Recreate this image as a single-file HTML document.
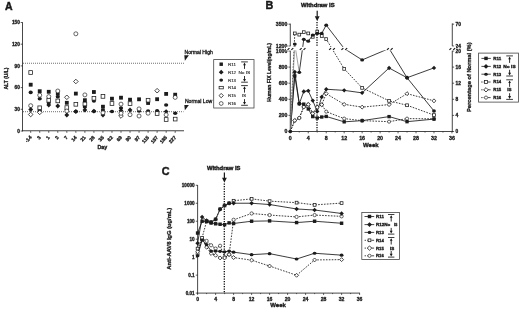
<!DOCTYPE html>
<html><head><meta charset="utf-8"><title>Figure</title>
<style>
html,body{margin:0;padding:0;background:#fff;}
body{width:520px;height:310px;overflow:hidden;font-family:"Liberation Sans",sans-serif;}
svg{display:block;font-family:"Liberation Sans",sans-serif;}
</style></head><body>
<svg width="520" height="310" viewBox="0 0 520 310">
<rect x="0" y="0" width="520" height="310" fill="#ffffff"/>
<defs><filter id="soft" x="0" y="0" width="520" height="310" filterUnits="userSpaceOnUse"><feGaussianBlur stdDeviation="0.3"/></filter></defs>
<g filter="url(#soft)">
<text x="5" y="10.2" font-size="10.5" font-weight="bold" stroke="#1a1a1a" stroke-width="0.45" fill="#1a1a1a">A</text>
<line x1="22.50" y1="22.20" x2="22.50" y2="131.40" stroke="#1a1a1a" stroke-width="0.8"/>
<line x1="22.10" y1="130.75" x2="184.00" y2="130.75" stroke="#1a1a1a" stroke-width="0.8"/>
<line x1="20.70" y1="131.00" x2="22.50" y2="131.00" stroke="#1a1a1a" stroke-width="0.7"/>
<text x="19.9" y="132.7" font-size="4.8" font-weight="bold" stroke="#1a1a1a" stroke-width="0.3" text-anchor="end" fill="#1a1a1a">0</text>
<line x1="20.70" y1="109.30" x2="22.50" y2="109.30" stroke="#1a1a1a" stroke-width="0.7"/>
<text x="19.9" y="111.0" font-size="4.8" font-weight="bold" stroke="#1a1a1a" stroke-width="0.3" text-anchor="end" fill="#1a1a1a">30</text>
<line x1="20.70" y1="87.60" x2="22.50" y2="87.60" stroke="#1a1a1a" stroke-width="0.7"/>
<text x="19.9" y="89.3" font-size="4.8" font-weight="bold" stroke="#1a1a1a" stroke-width="0.3" text-anchor="end" fill="#1a1a1a">60</text>
<line x1="20.70" y1="65.90" x2="22.50" y2="65.90" stroke="#1a1a1a" stroke-width="0.7"/>
<text x="19.9" y="67.6" font-size="4.8" font-weight="bold" stroke="#1a1a1a" stroke-width="0.3" text-anchor="end" fill="#1a1a1a">90</text>
<line x1="20.70" y1="44.20" x2="22.50" y2="44.20" stroke="#1a1a1a" stroke-width="0.7"/>
<text x="19.9" y="45.89999999999999" font-size="4.8" font-weight="bold" stroke="#1a1a1a" stroke-width="0.3" text-anchor="end" fill="#1a1a1a">120</text>
<line x1="20.70" y1="22.50" x2="22.50" y2="22.50" stroke="#1a1a1a" stroke-width="0.7"/>
<text x="19.9" y="24.199999999999985" font-size="4.8" font-weight="bold" stroke="#1a1a1a" stroke-width="0.3" text-anchor="end" fill="#1a1a1a">150</text>
<text x="7.6" y="78.5" font-size="5.5" font-weight="bold" stroke="#1a1a1a" stroke-width="0.3" text-anchor="middle" transform="rotate(-90 7.6 78.5)" textLength="22" lengthAdjust="spacingAndGlyphs" fill="#1a1a1a">ALT (U/L)</text>
<line x1="23.00" y1="63.25" x2="184.00" y2="63.25" stroke="#555" stroke-width="0.85" stroke-dasharray="1.0 1.0"/>
<line x1="23.00" y1="111.70" x2="183.50" y2="111.70" stroke="#555" stroke-width="0.85" stroke-dasharray="1.0 1.0"/>
<text x="184.5" y="54.0" font-size="5.0" stroke="#1a1a1a" stroke-width="0.3" textLength="28.3" lengthAdjust="spacingAndGlyphs" fill="#1a1a1a">Normal High</text>
<text x="184.9" y="102.9" font-size="5.0" stroke="#1a1a1a" stroke-width="0.3" textLength="27.4" lengthAdjust="spacingAndGlyphs" fill="#1a1a1a">Normal Low</text>
<polygon points="184.3,55.3 188.9,55.3 184.9,60.7" fill="#1a1a1a"/>
<polygon points="184.3,104.9 188.9,104.9 184.9,110.2" fill="#1a1a1a"/>
<line x1="30.70" y1="131.00" x2="30.70" y2="132.80" stroke="#1a1a1a" stroke-width="0.7"/>
<text x="32.0" y="137.6" font-size="4.9" font-weight="bold" stroke="#1a1a1a" stroke-width="0.3" text-anchor="end" transform="rotate(-48 32.0 137.6)" fill="#1a1a1a">-14</text>
<line x1="39.73" y1="131.00" x2="39.73" y2="132.80" stroke="#1a1a1a" stroke-width="0.7"/>
<text x="41.029999999999994" y="137.6" font-size="4.9" font-weight="bold" stroke="#1a1a1a" stroke-width="0.3" text-anchor="end" transform="rotate(-48 41.029999999999994 137.6)" fill="#1a1a1a">3</text>
<line x1="48.76" y1="131.00" x2="48.76" y2="132.80" stroke="#1a1a1a" stroke-width="0.7"/>
<text x="50.059999999999995" y="137.6" font-size="4.9" font-weight="bold" stroke="#1a1a1a" stroke-width="0.3" text-anchor="end" transform="rotate(-48 50.059999999999995 137.6)" fill="#1a1a1a">1</text>
<line x1="57.79" y1="131.00" x2="57.79" y2="132.80" stroke="#1a1a1a" stroke-width="0.7"/>
<text x="59.08999999999999" y="137.6" font-size="4.9" font-weight="bold" stroke="#1a1a1a" stroke-width="0.3" text-anchor="end" transform="rotate(-48 59.08999999999999 137.6)" fill="#1a1a1a">2</text>
<line x1="66.82" y1="131.00" x2="66.82" y2="132.80" stroke="#1a1a1a" stroke-width="0.7"/>
<text x="68.11999999999999" y="137.6" font-size="4.9" font-weight="bold" stroke="#1a1a1a" stroke-width="0.3" text-anchor="end" transform="rotate(-48 68.11999999999999 137.6)" fill="#1a1a1a">7</text>
<line x1="75.85" y1="131.00" x2="75.85" y2="132.80" stroke="#1a1a1a" stroke-width="0.7"/>
<text x="77.14999999999999" y="137.6" font-size="4.9" font-weight="bold" stroke="#1a1a1a" stroke-width="0.3" text-anchor="end" transform="rotate(-48 77.14999999999999 137.6)" fill="#1a1a1a">14</text>
<line x1="84.88" y1="131.00" x2="84.88" y2="132.80" stroke="#1a1a1a" stroke-width="0.7"/>
<text x="86.17999999999999" y="137.6" font-size="4.9" font-weight="bold" stroke="#1a1a1a" stroke-width="0.3" text-anchor="end" transform="rotate(-48 86.17999999999999 137.6)" fill="#1a1a1a">21</text>
<line x1="93.91" y1="131.00" x2="93.91" y2="132.80" stroke="#1a1a1a" stroke-width="0.7"/>
<text x="95.21" y="137.6" font-size="4.9" font-weight="bold" stroke="#1a1a1a" stroke-width="0.3" text-anchor="end" transform="rotate(-48 95.21 137.6)" fill="#1a1a1a">28</text>
<line x1="102.94" y1="131.00" x2="102.94" y2="132.80" stroke="#1a1a1a" stroke-width="0.7"/>
<text x="104.24" y="137.6" font-size="4.9" font-weight="bold" stroke="#1a1a1a" stroke-width="0.3" text-anchor="end" transform="rotate(-48 104.24 137.6)" fill="#1a1a1a">35</text>
<line x1="111.97" y1="131.00" x2="111.97" y2="132.80" stroke="#1a1a1a" stroke-width="0.7"/>
<text x="113.27" y="137.6" font-size="4.9" font-weight="bold" stroke="#1a1a1a" stroke-width="0.3" text-anchor="end" transform="rotate(-48 113.27 137.6)" fill="#1a1a1a">62</text>
<line x1="121.00" y1="131.00" x2="121.00" y2="132.80" stroke="#1a1a1a" stroke-width="0.7"/>
<text x="122.3" y="137.6" font-size="4.9" font-weight="bold" stroke="#1a1a1a" stroke-width="0.3" text-anchor="end" transform="rotate(-48 122.3 137.6)" fill="#1a1a1a">69</text>
<line x1="130.03" y1="131.00" x2="130.03" y2="132.80" stroke="#1a1a1a" stroke-width="0.7"/>
<text x="131.33" y="137.6" font-size="4.9" font-weight="bold" stroke="#1a1a1a" stroke-width="0.3" text-anchor="end" transform="rotate(-48 131.33 137.6)" fill="#1a1a1a">90</text>
<line x1="139.06" y1="131.00" x2="139.06" y2="132.80" stroke="#1a1a1a" stroke-width="0.7"/>
<text x="140.35999999999999" y="137.6" font-size="4.9" font-weight="bold" stroke="#1a1a1a" stroke-width="0.3" text-anchor="end" transform="rotate(-48 140.35999999999999 137.6)" fill="#1a1a1a">97</text>
<line x1="148.09" y1="131.00" x2="148.09" y2="132.80" stroke="#1a1a1a" stroke-width="0.7"/>
<text x="149.39" y="137.6" font-size="4.9" font-weight="bold" stroke="#1a1a1a" stroke-width="0.3" text-anchor="end" transform="rotate(-48 149.39 137.6)" fill="#1a1a1a">115</text>
<line x1="157.12" y1="131.00" x2="157.12" y2="132.80" stroke="#1a1a1a" stroke-width="0.7"/>
<text x="158.42" y="137.6" font-size="4.9" font-weight="bold" stroke="#1a1a1a" stroke-width="0.3" text-anchor="end" transform="rotate(-48 158.42 137.6)" fill="#1a1a1a">157</text>
<line x1="166.15" y1="131.00" x2="166.15" y2="132.80" stroke="#1a1a1a" stroke-width="0.7"/>
<text x="167.45" y="137.6" font-size="4.9" font-weight="bold" stroke="#1a1a1a" stroke-width="0.3" text-anchor="end" transform="rotate(-48 167.45 137.6)" fill="#1a1a1a">185</text>
<line x1="175.18" y1="131.00" x2="175.18" y2="132.80" stroke="#1a1a1a" stroke-width="0.7"/>
<text x="176.48" y="137.6" font-size="4.9" font-weight="bold" stroke="#1a1a1a" stroke-width="0.3" text-anchor="end" transform="rotate(-48 176.48 137.6)" fill="#1a1a1a">227</text>
<text x="102.4" y="149.3" font-size="5.4" font-weight="bold" stroke="#1a1a1a" stroke-width="0.3" text-anchor="middle" fill="#1a1a1a">Day</text>
<rect x="28.85" y="70.65" width="3.70" height="3.70" fill="#fff" stroke="#1a1a1a" stroke-width="0.75"/>
<rect x="28.80" y="82.80" width="3.80" height="3.80" fill="#1a1a1a"/>
<ellipse cx="30.70" cy="92.40" rx="2.10" ry="1.80" fill="#1a1a1a"/>
<circle cx="30.70" cy="105.70" r="2.00" fill="#fff" stroke="#2a2a2a" stroke-width="0.72"/>
<polygon points="30.70,107.10 33.10,109.50 30.70,111.90 28.30,109.50" fill="#1a1a1a"/>
<polygon points="30.70,112.20 33.00,114.50 30.70,116.80 28.40,114.50" fill="#fff" stroke="#1a1a1a" stroke-width="0.8"/>
<rect x="37.83" y="89.30" width="3.80" height="3.80" fill="#1a1a1a"/>
<ellipse cx="39.73" cy="98.70" rx="2.10" ry="1.80" fill="#1a1a1a"/>
<circle cx="39.73" cy="95.20" r="2.00" fill="#fff" stroke="#2a2a2a" stroke-width="0.72"/>
<polygon points="39.73,108.30 42.13,110.70 39.73,113.10 37.33,110.70" fill="#1a1a1a"/>
<polygon points="39.73,110.10 42.03,112.40 39.73,114.70 37.43,112.40" fill="#fff" stroke="#1a1a1a" stroke-width="0.8"/>
<rect x="37.88" y="105.95" width="3.70" height="3.70" fill="#fff" stroke="#1a1a1a" stroke-width="0.75"/>
<rect x="46.86" y="89.90" width="3.80" height="3.80" fill="#1a1a1a"/>
<polygon points="48.76,102.60 51.16,105.00 48.76,107.40 46.36,105.00" fill="#1a1a1a"/>
<ellipse cx="48.76" cy="102.80" rx="2.10" ry="1.80" fill="#1a1a1a"/>
<rect x="46.91" y="98.45" width="3.70" height="3.70" fill="#fff" stroke="#1a1a1a" stroke-width="0.75"/>
<circle cx="48.76" cy="96.60" r="2.00" fill="#fff" stroke="#2a2a2a" stroke-width="0.72"/>
<rect x="55.89" y="91.80" width="3.80" height="3.80" fill="#1a1a1a"/>
<polygon points="57.79,103.60 60.19,106.00 57.79,108.40 55.39,106.00" fill="#1a1a1a"/>
<ellipse cx="57.79" cy="96.80" rx="2.10" ry="1.80" fill="#1a1a1a"/>
<rect x="55.94" y="99.05" width="3.70" height="3.70" fill="#fff" stroke="#1a1a1a" stroke-width="0.75"/>
<circle cx="57.79" cy="91.00" r="2.00" fill="#fff" stroke="#2a2a2a" stroke-width="0.72"/>
<rect x="64.92" y="100.90" width="3.80" height="3.80" fill="#1a1a1a"/>
<polygon points="66.82,112.60 69.22,115.00 66.82,117.40 64.42,115.00" fill="#1a1a1a"/>
<ellipse cx="66.82" cy="109.50" rx="2.10" ry="1.80" fill="#1a1a1a"/>
<rect x="64.97" y="105.75" width="3.70" height="3.70" fill="#fff" stroke="#1a1a1a" stroke-width="0.75"/>
<circle cx="66.82" cy="111.00" r="2.00" fill="#fff" stroke="#2a2a2a" stroke-width="0.72"/>
<polygon points="66.82,95.00 69.12,97.30 66.82,99.60 64.52,97.30" fill="#fff" stroke="#1a1a1a" stroke-width="0.8"/>
<circle cx="75.85" cy="33.80" r="2.00" fill="#fff" stroke="#2a2a2a" stroke-width="0.72"/>
<polygon points="75.85,79.20 78.15,81.50 75.85,83.80 73.55,81.50" fill="#fff" stroke="#1a1a1a" stroke-width="0.8"/>
<rect x="73.95" y="91.70" width="3.80" height="3.80" fill="#1a1a1a"/>
<polygon points="75.85,109.10 78.25,111.50 75.85,113.90 73.45,111.50" fill="#1a1a1a"/>
<ellipse cx="75.85" cy="111.50" rx="2.10" ry="1.80" fill="#1a1a1a"/>
<rect x="74.00" y="102.45" width="3.70" height="3.70" fill="#fff" stroke="#1a1a1a" stroke-width="0.75"/>
<rect x="82.98" y="98.30" width="3.80" height="3.80" fill="#1a1a1a"/>
<polygon points="84.88,107.60 87.28,110.00 84.88,112.40 82.48,110.00" fill="#1a1a1a"/>
<ellipse cx="84.88" cy="107.00" rx="2.10" ry="1.80" fill="#1a1a1a"/>
<rect x="83.03" y="102.15" width="3.70" height="3.70" fill="#fff" stroke="#1a1a1a" stroke-width="0.75"/>
<circle cx="84.88" cy="94.90" r="2.00" fill="#fff" stroke="#2a2a2a" stroke-width="0.72"/>
<rect x="92.01" y="90.10" width="3.80" height="3.80" fill="#1a1a1a"/>
<polygon points="93.91,108.80 96.31,111.20 93.91,113.60 91.51,111.20" fill="#1a1a1a"/>
<ellipse cx="93.91" cy="111.20" rx="2.10" ry="1.80" fill="#1a1a1a"/>
<ellipse cx="93.91" cy="101.00" rx="2.10" ry="1.80" fill="#1a1a1a"/>
<rect x="92.06" y="96.45" width="3.70" height="3.70" fill="#fff" stroke="#1a1a1a" stroke-width="0.75"/>
<rect x="101.04" y="104.80" width="3.80" height="3.80" fill="#1a1a1a"/>
<polygon points="102.94,112.60 105.34,115.00 102.94,117.40 100.54,115.00" fill="#1a1a1a"/>
<ellipse cx="102.94" cy="110.00" rx="2.10" ry="1.80" fill="#1a1a1a"/>
<rect x="101.09" y="94.55" width="3.70" height="3.70" fill="#fff" stroke="#1a1a1a" stroke-width="0.75"/>
<circle cx="102.94" cy="112.80" r="2.00" fill="#fff" stroke="#2a2a2a" stroke-width="0.72"/>
<rect x="110.07" y="96.80" width="3.80" height="3.80" fill="#1a1a1a"/>
<ellipse cx="111.97" cy="111.50" rx="2.10" ry="1.80" fill="#1a1a1a"/>
<rect x="110.12" y="101.65" width="3.70" height="3.70" fill="#fff" stroke="#1a1a1a" stroke-width="0.75"/>
<rect x="119.10" y="95.80" width="3.80" height="3.80" fill="#1a1a1a"/>
<ellipse cx="121.00" cy="108.00" rx="2.10" ry="1.80" fill="#1a1a1a"/>
<polygon points="121.00,108.20 123.40,110.60 121.00,113.00 118.60,110.60" fill="#1a1a1a"/>
<circle cx="121.00" cy="104.10" r="2.00" fill="#fff" stroke="#2a2a2a" stroke-width="0.72"/>
<polygon points="121.00,113.70 123.30,116.00 121.00,118.30 118.70,116.00" fill="#fff" stroke="#1a1a1a" stroke-width="0.8"/>
<circle cx="121.00" cy="113.30" r="2.00" fill="#fff" stroke="#2a2a2a" stroke-width="0.72"/>
<rect x="128.13" y="97.80" width="3.80" height="3.80" fill="#1a1a1a"/>
<polygon points="130.03,107.60 132.43,110.00 130.03,112.40 127.63,110.00" fill="#1a1a1a"/>
<rect x="128.18" y="101.75" width="3.70" height="3.70" fill="#fff" stroke="#1a1a1a" stroke-width="0.75"/>
<circle cx="130.03" cy="114.70" r="2.00" fill="#fff" stroke="#2a2a2a" stroke-width="0.72"/>
<rect x="137.16" y="97.40" width="3.80" height="3.80" fill="#1a1a1a"/>
<ellipse cx="139.06" cy="111.00" rx="2.10" ry="1.80" fill="#1a1a1a"/>
<circle cx="139.06" cy="108.90" r="2.00" fill="#fff" stroke="#2a2a2a" stroke-width="0.72"/>
<circle cx="139.06" cy="116.00" r="2.00" fill="#fff" stroke="#2a2a2a" stroke-width="0.72"/>
<rect x="146.19" y="101.10" width="3.80" height="3.80" fill="#1a1a1a"/>
<ellipse cx="148.09" cy="111.00" rx="2.10" ry="1.80" fill="#1a1a1a"/>
<rect x="146.24" y="98.35" width="3.70" height="3.70" fill="#fff" stroke="#1a1a1a" stroke-width="0.75"/>
<circle cx="148.09" cy="113.20" r="2.00" fill="#fff" stroke="#2a2a2a" stroke-width="0.72"/>
<rect x="155.22" y="97.30" width="3.80" height="3.80" fill="#1a1a1a"/>
<ellipse cx="157.12" cy="110.70" rx="2.10" ry="1.80" fill="#1a1a1a"/>
<rect x="155.27" y="111.65" width="3.70" height="3.70" fill="#fff" stroke="#1a1a1a" stroke-width="0.75"/>
<polygon points="157.12,88.40 159.42,90.70 157.12,93.00 154.82,90.70" fill="#fff" stroke="#1a1a1a" stroke-width="0.8"/>
<rect x="164.25" y="92.00" width="3.80" height="3.80" fill="#1a1a1a"/>
<ellipse cx="166.15" cy="105.00" rx="2.10" ry="1.80" fill="#1a1a1a"/>
<polygon points="166.15,109.20 168.55,111.60 166.15,114.00 163.75,111.60" fill="#1a1a1a"/>
<circle cx="166.15" cy="114.80" r="2.00" fill="#fff" stroke="#2a2a2a" stroke-width="0.72"/>
<rect x="164.30" y="117.65" width="3.70" height="3.70" fill="#fff" stroke="#1a1a1a" stroke-width="0.75"/>
<rect x="173.28" y="92.80" width="3.80" height="3.80" fill="#1a1a1a"/>
<ellipse cx="175.18" cy="113.20" rx="2.10" ry="1.80" fill="#1a1a1a"/>
<rect x="173.33" y="117.25" width="3.70" height="3.70" fill="#fff" stroke="#1a1a1a" stroke-width="0.75"/>
<circle cx="175.18" cy="97.40" r="2.00" fill="#fff" stroke="#2a2a2a" stroke-width="0.72"/>
<rect x="213.7" y="59.6" width="40.3" height="48.4" fill="#fff" stroke="#444" stroke-width="0.8"/>
<rect x="219.49" y="62.49" width="3.42" height="3.42" fill="#1a1a1a"/>
<text x="228" y="65.75" font-size="4.3" stroke="#1a1a1a" stroke-width="0.12" textLength="8.0" lengthAdjust="spacingAndGlyphs" fill="#1a1a1a">R11</text>
<polygon points="221.20,69.80 223.60,72.20 221.20,74.60 218.80,72.20" fill="#1a1a1a"/>
<text x="228" y="73.75" font-size="4.3" stroke="#1a1a1a" stroke-width="0.12" textLength="8.0" lengthAdjust="spacingAndGlyphs" fill="#1a1a1a">R12</text>
<ellipse cx="221.20" cy="80.10" rx="1.85" ry="1.58" fill="#1a1a1a"/>
<text x="228" y="81.64999999999999" font-size="4.3" stroke="#1a1a1a" stroke-width="0.12" textLength="8.0" lengthAdjust="spacingAndGlyphs" fill="#1a1a1a">R13</text>
<rect x="219.10" y="86.35" width="4.2" height="2.5" fill="#fff" stroke="#1a1a1a" stroke-width="0.75"/>
<text x="228" y="89.14999999999999" font-size="4.3" stroke="#1a1a1a" stroke-width="0.12" textLength="8.0" lengthAdjust="spacingAndGlyphs" fill="#1a1a1a">R14</text>
<polygon points="221.20,93.41 223.38,95.60 221.20,97.78 219.01,95.60" fill="#fff" stroke="#1a1a1a" stroke-width="0.8"/>
<text x="228" y="97.14999999999999" font-size="4.3" stroke="#1a1a1a" stroke-width="0.12" textLength="8.0" lengthAdjust="spacingAndGlyphs" fill="#1a1a1a">R15</text>
<circle cx="221.20" cy="103.50" r="1.90" fill="#fff" stroke="#2a2a2a" stroke-width="0.72"/>
<text x="228" y="105.05" font-size="4.3" stroke="#1a1a1a" stroke-width="0.12" textLength="8.0" lengthAdjust="spacingAndGlyphs" fill="#1a1a1a">R16</text>
<text x="238.4" y="73.75" font-size="4.3" stroke="#1a1a1a" stroke-width="0.12" textLength="11.9" lengthAdjust="spacingAndGlyphs" fill="#1a1a1a">No IS</text>
<text x="241.8" y="97.14999999999999" font-size="4.3" stroke="#1a1a1a" stroke-width="0.12" textLength="4.3" lengthAdjust="spacingAndGlyphs" fill="#1a1a1a">IS</text>
<line x1="241.15" y1="61.90" x2="247.85" y2="61.90" stroke="#1a1a1a" stroke-width="0.85"/>
<polygon points="244.50,62.60 243.15,65.20 245.85,65.20" fill="#1a1a1a"/>
<line x1="244.50" y1="63.90" x2="244.50" y2="68.90" stroke="#1a1a1a" stroke-width="0.9"/>
<line x1="241.15" y1="82.20" x2="247.85" y2="82.20" stroke="#1a1a1a" stroke-width="0.85"/>
<polygon points="244.50,81.70 243.05,78.90 245.95,78.90" fill="#1a1a1a"/>
<line x1="244.50" y1="80.20" x2="244.50" y2="76.00" stroke="#1a1a1a" stroke-width="0.9"/>
<line x1="241.15" y1="85.60" x2="247.85" y2="85.60" stroke="#1a1a1a" stroke-width="0.85"/>
<polygon points="244.50,86.30 243.15,88.90 245.85,88.90" fill="#1a1a1a"/>
<line x1="244.50" y1="87.60" x2="244.50" y2="92.60" stroke="#1a1a1a" stroke-width="0.9"/>
<line x1="241.15" y1="105.30" x2="247.85" y2="105.30" stroke="#1a1a1a" stroke-width="0.85"/>
<polygon points="244.50,104.80 243.05,102.00 245.95,102.00" fill="#1a1a1a"/>
<line x1="244.50" y1="103.30" x2="244.50" y2="99.10" stroke="#1a1a1a" stroke-width="0.9"/>
<text x="265.6" y="9.3" font-size="10.8" font-weight="bold" stroke="#1a1a1a" stroke-width="0.45" fill="#1a1a1a">B</text>
<text x="301" y="6.9" font-size="5.9" font-weight="bold" stroke="#1a1a1a" stroke-width="0.4" textLength="33.6" lengthAdjust="spacingAndGlyphs" fill="#1a1a1a">Withdraw IS</text>
<line x1="317.20" y1="10.80" x2="317.20" y2="16.80" stroke="#1a1a1a" stroke-width="1.2"/>
<polygon points="314.80,16.30 319.60,16.30 317.20,21.30" fill="#1a1a1a"/>
<line x1="290.30" y1="23.60" x2="290.30" y2="46.20" stroke="#1a1a1a" stroke-width="0.8"/>
<line x1="290.30" y1="50.60" x2="290.30" y2="131.90" stroke="#1a1a1a" stroke-width="0.8"/>
<line x1="452.30" y1="23.40" x2="452.30" y2="46.20" stroke="#1a1a1a" stroke-width="0.8"/>
<line x1="452.30" y1="50.60" x2="452.30" y2="131.90" stroke="#1a1a1a" stroke-width="0.8"/>
<line x1="289.90" y1="131.50" x2="452.70" y2="131.50" stroke="#1a1a1a" stroke-width="0.8"/>
<line x1="317.00" y1="22.00" x2="317.00" y2="131.50" stroke="#000" stroke-width="1.25" stroke-dasharray="1.15 1.35"/>
<line x1="288.50" y1="131.50" x2="290.30" y2="131.50" stroke="#1a1a1a" stroke-width="0.7"/>
<text x="287.3" y="133.3" font-size="5.2" font-weight="bold" stroke="#1a1a1a" stroke-width="0.3" text-anchor="end" fill="#1a1a1a">0</text>
<line x1="288.50" y1="115.40" x2="290.30" y2="115.40" stroke="#1a1a1a" stroke-width="0.7"/>
<text x="287.3" y="117.2" font-size="5.2" font-weight="bold" stroke="#1a1a1a" stroke-width="0.3" text-anchor="end" fill="#1a1a1a">200</text>
<line x1="288.50" y1="99.30" x2="290.30" y2="99.30" stroke="#1a1a1a" stroke-width="0.7"/>
<text x="287.3" y="101.1" font-size="5.2" font-weight="bold" stroke="#1a1a1a" stroke-width="0.3" text-anchor="end" fill="#1a1a1a">400</text>
<line x1="288.50" y1="83.20" x2="290.30" y2="83.20" stroke="#1a1a1a" stroke-width="0.7"/>
<text x="287.3" y="85.0" font-size="5.2" font-weight="bold" stroke="#1a1a1a" stroke-width="0.3" text-anchor="end" fill="#1a1a1a">600</text>
<line x1="288.50" y1="67.10" x2="290.30" y2="67.10" stroke="#1a1a1a" stroke-width="0.7"/>
<text x="287.3" y="68.89999999999999" font-size="5.2" font-weight="bold" stroke="#1a1a1a" stroke-width="0.3" text-anchor="end" fill="#1a1a1a">800</text>
<line x1="288.50" y1="51.00" x2="290.30" y2="51.00" stroke="#1a1a1a" stroke-width="0.7"/>
<text x="287.3" y="52.8" font-size="5.2" font-weight="bold" stroke="#1a1a1a" stroke-width="0.3" text-anchor="end" fill="#1a1a1a">1000</text>
<line x1="288.50" y1="46.00" x2="290.30" y2="46.00" stroke="#1a1a1a" stroke-width="0.7"/>
<text x="287.3" y="47.8" font-size="5.2" font-weight="bold" stroke="#1a1a1a" stroke-width="0.3" text-anchor="end" fill="#1a1a1a">1200</text>
<line x1="288.50" y1="24.20" x2="290.30" y2="24.20" stroke="#1a1a1a" stroke-width="0.7"/>
<text x="287.3" y="26.0" font-size="5.2" font-weight="bold" stroke="#1a1a1a" stroke-width="0.3" text-anchor="end" fill="#1a1a1a">3500</text>
<line x1="452.30" y1="131.50" x2="454.10" y2="131.50" stroke="#1a1a1a" stroke-width="0.7"/>
<text x="455.5" y="133.2" font-size="4.9" font-weight="bold" stroke="#1a1a1a" stroke-width="0.3" fill="#1a1a1a">0</text>
<line x1="452.30" y1="115.40" x2="454.10" y2="115.40" stroke="#1a1a1a" stroke-width="0.7"/>
<text x="455.5" y="117.10000000000001" font-size="4.9" font-weight="bold" stroke="#1a1a1a" stroke-width="0.3" fill="#1a1a1a">4</text>
<line x1="452.30" y1="99.30" x2="454.10" y2="99.30" stroke="#1a1a1a" stroke-width="0.7"/>
<text x="455.5" y="101.0" font-size="4.9" font-weight="bold" stroke="#1a1a1a" stroke-width="0.3" fill="#1a1a1a">8</text>
<line x1="452.30" y1="83.20" x2="454.10" y2="83.20" stroke="#1a1a1a" stroke-width="0.7"/>
<text x="455.5" y="84.9" font-size="4.9" font-weight="bold" stroke="#1a1a1a" stroke-width="0.3" fill="#1a1a1a">12</text>
<line x1="452.30" y1="67.10" x2="454.10" y2="67.10" stroke="#1a1a1a" stroke-width="0.7"/>
<text x="455.5" y="68.8" font-size="4.9" font-weight="bold" stroke="#1a1a1a" stroke-width="0.3" fill="#1a1a1a">16</text>
<line x1="452.30" y1="51.00" x2="454.10" y2="51.00" stroke="#1a1a1a" stroke-width="0.7"/>
<text x="455.5" y="52.7" font-size="4.9" font-weight="bold" stroke="#1a1a1a" stroke-width="0.3" fill="#1a1a1a">20</text>
<line x1="452.30" y1="46.00" x2="454.10" y2="46.00" stroke="#1a1a1a" stroke-width="0.7"/>
<text x="455.5" y="47.7" font-size="4.9" font-weight="bold" stroke="#1a1a1a" stroke-width="0.3" fill="#1a1a1a">24</text>
<line x1="452.30" y1="24.20" x2="454.10" y2="24.20" stroke="#1a1a1a" stroke-width="0.7"/>
<text x="455.5" y="25.9" font-size="4.9" font-weight="bold" stroke="#1a1a1a" stroke-width="0.3" fill="#1a1a1a">70</text>
<text x="271.1" y="72.3" font-size="5.2" font-weight="bold" stroke="#1a1a1a" stroke-width="0.3" text-anchor="middle" transform="rotate(-90 271.1 72.3)" textLength="58.7" lengthAdjust="spacingAndGlyphs" fill="#1a1a1a">Human FIX Level(ng/mL)</text>
<text x="471.4" y="77.2" font-size="5.6" font-weight="bold" stroke="#1a1a1a" stroke-width="0.3" text-anchor="middle" transform="rotate(-90 471.4 77.2)" textLength="69.5" lengthAdjust="spacingAndGlyphs" fill="#1a1a1a">Percentage of Normal (%)</text>
<line x1="290.30" y1="131.50" x2="290.30" y2="133.30" stroke="#1a1a1a" stroke-width="0.7"/>
<text x="290.3" y="139.9" font-size="5.3" font-weight="bold" stroke="#1a1a1a" stroke-width="0.3" text-anchor="middle" fill="#1a1a1a">0</text>
<line x1="299.28" y1="131.50" x2="299.28" y2="132.50" stroke="#1a1a1a" stroke-width="0.7"/>
<line x1="308.26" y1="131.50" x2="308.26" y2="133.30" stroke="#1a1a1a" stroke-width="0.7"/>
<text x="308.26" y="139.9" font-size="5.3" font-weight="bold" stroke="#1a1a1a" stroke-width="0.3" text-anchor="middle" fill="#1a1a1a">4</text>
<line x1="317.24" y1="131.50" x2="317.24" y2="132.50" stroke="#1a1a1a" stroke-width="0.7"/>
<line x1="326.22" y1="131.50" x2="326.22" y2="133.30" stroke="#1a1a1a" stroke-width="0.7"/>
<text x="326.22" y="139.9" font-size="5.3" font-weight="bold" stroke="#1a1a1a" stroke-width="0.3" text-anchor="middle" fill="#1a1a1a">8</text>
<line x1="335.20" y1="131.50" x2="335.20" y2="132.50" stroke="#1a1a1a" stroke-width="0.7"/>
<line x1="344.18" y1="131.50" x2="344.18" y2="133.30" stroke="#1a1a1a" stroke-width="0.7"/>
<text x="344.18" y="139.9" font-size="5.3" font-weight="bold" stroke="#1a1a1a" stroke-width="0.3" text-anchor="middle" fill="#1a1a1a">12</text>
<line x1="353.16" y1="131.50" x2="353.16" y2="132.50" stroke="#1a1a1a" stroke-width="0.7"/>
<line x1="362.14" y1="131.50" x2="362.14" y2="133.30" stroke="#1a1a1a" stroke-width="0.7"/>
<text x="362.14" y="139.9" font-size="5.3" font-weight="bold" stroke="#1a1a1a" stroke-width="0.3" text-anchor="middle" fill="#1a1a1a">16</text>
<line x1="371.12" y1="131.50" x2="371.12" y2="132.50" stroke="#1a1a1a" stroke-width="0.7"/>
<line x1="380.10" y1="131.50" x2="380.10" y2="133.30" stroke="#1a1a1a" stroke-width="0.7"/>
<text x="380.1" y="139.9" font-size="5.3" font-weight="bold" stroke="#1a1a1a" stroke-width="0.3" text-anchor="middle" fill="#1a1a1a">20</text>
<line x1="389.08" y1="131.50" x2="389.08" y2="132.50" stroke="#1a1a1a" stroke-width="0.7"/>
<line x1="398.06" y1="131.50" x2="398.06" y2="133.30" stroke="#1a1a1a" stroke-width="0.7"/>
<text x="398.06" y="139.9" font-size="5.3" font-weight="bold" stroke="#1a1a1a" stroke-width="0.3" text-anchor="middle" fill="#1a1a1a">24</text>
<line x1="407.04" y1="131.50" x2="407.04" y2="132.50" stroke="#1a1a1a" stroke-width="0.7"/>
<line x1="416.02" y1="131.50" x2="416.02" y2="133.30" stroke="#1a1a1a" stroke-width="0.7"/>
<text x="416.02" y="139.9" font-size="5.3" font-weight="bold" stroke="#1a1a1a" stroke-width="0.3" text-anchor="middle" fill="#1a1a1a">28</text>
<line x1="425.00" y1="131.50" x2="425.00" y2="132.50" stroke="#1a1a1a" stroke-width="0.7"/>
<line x1="433.98" y1="131.50" x2="433.98" y2="133.30" stroke="#1a1a1a" stroke-width="0.7"/>
<text x="433.98" y="139.9" font-size="5.3" font-weight="bold" stroke="#1a1a1a" stroke-width="0.3" text-anchor="middle" fill="#1a1a1a">32</text>
<line x1="442.96" y1="131.50" x2="442.96" y2="132.50" stroke="#1a1a1a" stroke-width="0.7"/>
<line x1="451.94" y1="131.50" x2="451.94" y2="133.30" stroke="#1a1a1a" stroke-width="0.7"/>
<text x="451.94000000000005" y="139.9" font-size="5.3" font-weight="bold" stroke="#1a1a1a" stroke-width="0.3" text-anchor="middle" fill="#1a1a1a">36</text>
<text x="370.8" y="146.6" font-size="5.4" font-weight="bold" stroke="#1a1a1a" stroke-width="0.3" text-anchor="middle" textLength="15.6" lengthAdjust="spacingAndGlyphs" fill="#1a1a1a">Week</text>
<polyline points="290.30,131.50 294.79,120.47 299.28,117.98 303.77,106.95 308.26,104.45 312.75,113.55 317.24,107.19 321.73,104.69 326.22,111.62 344.18,118.62 362.14,120.63 389.08,121.68 407.04,118.62 433.98,118.78" fill="none" stroke="#1a1a1a" stroke-width="0.85" stroke-dasharray="1.6 1.3"/>
<polyline points="290.30,131.50 294.79,120.47 299.28,117.98 303.77,106.95 308.26,104.45 312.75,113.55 317.24,107.19 321.73,104.69 326.22,93.66 344.18,104.37 362.14,107.11 389.08,104.61 407.04,93.66 433.98,100.83" fill="none" stroke="#1a1a1a" stroke-width="0.85" stroke-dasharray="1.6 1.3"/>
<polyline points="290.30,131.50 294.79,33.39 299.28,34.63 303.77,32.16 308.26,33.39 312.75,36.81 317.24,31.59 321.73,35.95 326.22,39.08 344.18,68.87 362.14,87.87 389.08,100.83 407.04,105.26 433.98,115.08" fill="none" stroke="#1a1a1a" stroke-width="0.85" stroke-dasharray="1.6 1.3"/>
<polyline points="290.30,131.50 294.79,75.95 299.28,103.73 303.77,104.13 308.26,108.96 312.75,116.61 317.24,117.98 321.73,117.01 326.22,116.45 344.18,121.84 362.14,120.63 389.08,116.61 407.04,121.68 433.98,119.10" fill="none" stroke="#1a1a1a" stroke-width="0.85"/>
<polyline points="290.30,131.50 294.79,71.93 299.28,103.73 303.77,91.49 308.26,90.85 312.75,100.59 317.24,111.38 321.73,97.05 326.22,89.24 344.18,90.36 362.14,92.86 389.08,67.99 407.04,77.73 433.98,67.91" fill="none" stroke="#1a1a1a" stroke-width="0.85"/>
<polyline points="290.30,131.50 294.79,44.10 299.28,72.33" fill="none" stroke="#8a8a8a" stroke-width="0.8"/>
<polyline points="299.28,72.33 303.77,39.37 308.26,41.17 312.75,35.10 317.24,33.39 321.73,33.39 326.22,25.15 344.18,48.50 362.14,59.94 389.08,48.50 407.04,77.73 433.98,110.97" fill="none" stroke="#1a1a1a" stroke-width="0.85"/>
<rect x="286" y="46.9" width="170" height="3.4" fill="#fff"/>
<circle cx="294.79" cy="120.47" r="1.56" fill="#fff" stroke="#2a2a2a" stroke-width="0.72"/>
<circle cx="299.28" cy="117.98" r="1.56" fill="#fff" stroke="#2a2a2a" stroke-width="0.72"/>
<circle cx="303.77" cy="106.95" r="1.56" fill="#fff" stroke="#2a2a2a" stroke-width="0.72"/>
<circle cx="308.26" cy="104.45" r="1.56" fill="#fff" stroke="#2a2a2a" stroke-width="0.72"/>
<circle cx="312.75" cy="113.55" r="1.56" fill="#fff" stroke="#2a2a2a" stroke-width="0.72"/>
<circle cx="317.24" cy="107.19" r="1.56" fill="#fff" stroke="#2a2a2a" stroke-width="0.72"/>
<circle cx="321.73" cy="104.69" r="1.56" fill="#fff" stroke="#2a2a2a" stroke-width="0.72"/>
<circle cx="326.22" cy="111.62" r="1.56" fill="#fff" stroke="#2a2a2a" stroke-width="0.72"/>
<circle cx="344.18" cy="118.62" r="1.56" fill="#fff" stroke="#2a2a2a" stroke-width="0.72"/>
<circle cx="362.14" cy="120.63" r="1.56" fill="#fff" stroke="#2a2a2a" stroke-width="0.72"/>
<circle cx="389.08" cy="121.68" r="1.56" fill="#fff" stroke="#2a2a2a" stroke-width="0.72"/>
<circle cx="407.04" cy="118.62" r="1.56" fill="#fff" stroke="#2a2a2a" stroke-width="0.72"/>
<circle cx="433.98" cy="118.78" r="1.56" fill="#fff" stroke="#2a2a2a" stroke-width="0.72"/>
<polygon points="294.79,118.52 296.75,120.47 294.79,122.43 292.84,120.47" fill="#fff" stroke="#1a1a1a" stroke-width="0.8"/>
<polygon points="299.28,116.02 301.24,117.98 299.28,119.93 297.33,117.98" fill="#fff" stroke="#1a1a1a" stroke-width="0.8"/>
<polygon points="303.77,104.99 305.73,106.95 303.77,108.90 301.82,106.95" fill="#fff" stroke="#1a1a1a" stroke-width="0.8"/>
<polygon points="308.26,102.50 310.21,104.45 308.26,106.41 306.31,104.45" fill="#fff" stroke="#1a1a1a" stroke-width="0.8"/>
<polygon points="312.75,111.59 314.70,113.55 312.75,115.50 310.80,113.55" fill="#fff" stroke="#1a1a1a" stroke-width="0.8"/>
<polygon points="317.24,105.23 319.19,107.19 317.24,109.14 315.29,107.19" fill="#fff" stroke="#1a1a1a" stroke-width="0.8"/>
<polygon points="321.73,102.74 323.69,104.69 321.73,106.65 319.78,104.69" fill="#fff" stroke="#1a1a1a" stroke-width="0.8"/>
<polygon points="326.22,91.71 328.18,93.66 326.22,95.62 324.27,93.66" fill="#fff" stroke="#1a1a1a" stroke-width="0.8"/>
<polygon points="344.18,102.42 346.13,104.37 344.18,106.33 342.23,104.37" fill="#fff" stroke="#1a1a1a" stroke-width="0.8"/>
<polygon points="362.14,105.15 364.09,107.11 362.14,109.06 360.19,107.11" fill="#fff" stroke="#1a1a1a" stroke-width="0.8"/>
<polygon points="389.08,102.66 391.04,104.61 389.08,106.57 387.13,104.61" fill="#fff" stroke="#1a1a1a" stroke-width="0.8"/>
<polygon points="407.04,91.71 409.00,93.66 407.04,95.62 405.09,93.66" fill="#fff" stroke="#1a1a1a" stroke-width="0.8"/>
<polygon points="433.98,98.87 435.94,100.83 433.98,102.78 432.03,100.83" fill="#fff" stroke="#1a1a1a" stroke-width="0.8"/>
<rect x="293.40" y="32.01" width="2.78" height="2.78" fill="#fff" stroke="#1a1a1a" stroke-width="0.75"/>
<rect x="297.89" y="33.24" width="2.78" height="2.78" fill="#fff" stroke="#1a1a1a" stroke-width="0.75"/>
<rect x="302.38" y="30.77" width="2.78" height="2.78" fill="#fff" stroke="#1a1a1a" stroke-width="0.75"/>
<rect x="306.87" y="32.01" width="2.78" height="2.78" fill="#fff" stroke="#1a1a1a" stroke-width="0.75"/>
<rect x="311.36" y="35.42" width="2.78" height="2.78" fill="#fff" stroke="#1a1a1a" stroke-width="0.75"/>
<rect x="315.85" y="30.21" width="2.78" height="2.78" fill="#fff" stroke="#1a1a1a" stroke-width="0.75"/>
<rect x="320.34" y="34.57" width="2.78" height="2.78" fill="#fff" stroke="#1a1a1a" stroke-width="0.75"/>
<rect x="324.83" y="37.69" width="2.78" height="2.78" fill="#fff" stroke="#1a1a1a" stroke-width="0.75"/>
<rect x="342.79" y="67.48" width="2.78" height="2.78" fill="#fff" stroke="#1a1a1a" stroke-width="0.75"/>
<rect x="360.75" y="86.48" width="2.78" height="2.78" fill="#fff" stroke="#1a1a1a" stroke-width="0.75"/>
<rect x="387.69" y="99.44" width="2.78" height="2.78" fill="#fff" stroke="#1a1a1a" stroke-width="0.75"/>
<rect x="405.65" y="103.87" width="2.78" height="2.78" fill="#fff" stroke="#1a1a1a" stroke-width="0.75"/>
<rect x="432.59" y="113.69" width="2.78" height="2.78" fill="#fff" stroke="#1a1a1a" stroke-width="0.75"/>
<rect x="293.12" y="74.28" width="3.34" height="3.34" fill="#1a1a1a"/>
<rect x="297.61" y="102.06" width="3.34" height="3.34" fill="#1a1a1a"/>
<rect x="302.10" y="102.46" width="3.34" height="3.34" fill="#1a1a1a"/>
<rect x="306.59" y="107.29" width="3.34" height="3.34" fill="#1a1a1a"/>
<rect x="311.08" y="114.94" width="3.34" height="3.34" fill="#1a1a1a"/>
<rect x="315.57" y="116.30" width="3.34" height="3.34" fill="#1a1a1a"/>
<rect x="320.06" y="115.34" width="3.34" height="3.34" fill="#1a1a1a"/>
<rect x="324.55" y="114.77" width="3.34" height="3.34" fill="#1a1a1a"/>
<rect x="342.51" y="120.17" width="3.34" height="3.34" fill="#1a1a1a"/>
<rect x="360.47" y="118.96" width="3.34" height="3.34" fill="#1a1a1a"/>
<rect x="387.41" y="114.94" width="3.34" height="3.34" fill="#1a1a1a"/>
<rect x="405.37" y="120.01" width="3.34" height="3.34" fill="#1a1a1a"/>
<rect x="432.31" y="117.43" width="3.34" height="3.34" fill="#1a1a1a"/>
<polygon points="294.79,69.72 297.00,71.93 294.79,74.14 292.58,71.93" fill="#1a1a1a"/>
<polygon points="299.28,101.52 301.49,103.73 299.28,105.94 297.07,103.73" fill="#1a1a1a"/>
<polygon points="303.77,89.28 305.98,91.49 303.77,93.70 301.56,91.49" fill="#1a1a1a"/>
<polygon points="308.26,88.64 310.47,90.85 308.26,93.06 306.05,90.85" fill="#1a1a1a"/>
<polygon points="312.75,98.38 314.96,100.59 312.75,102.80 310.54,100.59" fill="#1a1a1a"/>
<polygon points="317.24,109.17 319.45,111.38 317.24,113.58 315.03,111.38" fill="#1a1a1a"/>
<polygon points="321.73,94.84 323.94,97.05 321.73,99.25 319.52,97.05" fill="#1a1a1a"/>
<polygon points="326.22,87.03 328.43,89.24 326.22,91.45 324.01,89.24" fill="#1a1a1a"/>
<polygon points="344.18,88.16 346.39,90.36 344.18,92.57 341.97,90.36" fill="#1a1a1a"/>
<polygon points="362.14,90.65 364.35,92.86 362.14,95.07 359.93,92.86" fill="#1a1a1a"/>
<polygon points="389.08,65.78 391.29,67.99 389.08,70.19 386.87,67.99" fill="#1a1a1a"/>
<polygon points="407.04,75.52 409.25,77.73 407.04,79.93 404.83,77.73" fill="#1a1a1a"/>
<polygon points="433.98,65.70 436.19,67.91 433.98,70.11 431.77,67.91" fill="#1a1a1a"/>
<ellipse cx="290.30" cy="131.50" rx="1.93" ry="1.66" fill="#1a1a1a"/>
<ellipse cx="294.79" cy="44.10" rx="1.93" ry="1.66" fill="#1a1a1a"/>
<ellipse cx="299.28" cy="72.33" rx="1.93" ry="1.66" fill="#1a1a1a"/>
<ellipse cx="303.77" cy="39.37" rx="1.93" ry="1.66" fill="#1a1a1a"/>
<ellipse cx="308.26" cy="41.17" rx="1.93" ry="1.66" fill="#1a1a1a"/>
<ellipse cx="312.75" cy="35.10" rx="1.93" ry="1.66" fill="#1a1a1a"/>
<ellipse cx="317.24" cy="33.39" rx="1.93" ry="1.66" fill="#1a1a1a"/>
<ellipse cx="321.73" cy="33.39" rx="1.93" ry="1.66" fill="#1a1a1a"/>
<ellipse cx="326.22" cy="25.15" rx="1.93" ry="1.66" fill="#1a1a1a"/>
<ellipse cx="362.14" cy="59.94" rx="1.93" ry="1.66" fill="#1a1a1a"/>
<ellipse cx="407.04" cy="77.73" rx="1.93" ry="1.66" fill="#1a1a1a"/>
<ellipse cx="433.98" cy="110.97" rx="1.93" ry="1.66" fill="#1a1a1a"/>
<line x1="287.55" y1="49.85" x2="289.45" y2="48.15" stroke="#1a1a1a" stroke-width="1.25"/>
<line x1="291.35" y1="49.85" x2="293.25" y2="48.15" stroke="#1a1a1a" stroke-width="1.25"/>
<line x1="449.45" y1="49.85" x2="451.35" y2="48.15" stroke="#1a1a1a" stroke-width="1.25"/>
<line x1="453.25" y1="49.85" x2="455.15" y2="48.15" stroke="#1a1a1a" stroke-width="1.25"/>
<line x1="299.75" y1="49.85" x2="301.65" y2="48.15" stroke="#1a1a1a" stroke-width="1.25"/>
<line x1="303.55" y1="49.85" x2="305.45" y2="48.15" stroke="#1a1a1a" stroke-width="1.25"/>
<line x1="341.45" y1="49.85" x2="343.35" y2="48.15" stroke="#1a1a1a" stroke-width="1.25"/>
<line x1="345.25" y1="49.85" x2="347.15" y2="48.15" stroke="#1a1a1a" stroke-width="1.25"/>
<line x1="386.95" y1="49.85" x2="388.85" y2="48.15" stroke="#1a1a1a" stroke-width="1.25"/>
<line x1="390.75" y1="49.85" x2="392.65" y2="48.15" stroke="#1a1a1a" stroke-width="1.25"/>
<line x1="329.15" y1="49.85" x2="331.05" y2="48.15" stroke="#1a1a1a" stroke-width="1.25"/>
<line x1="332.95" y1="49.85" x2="334.85" y2="48.15" stroke="#1a1a1a" stroke-width="1.25"/>
<rect x="478.6" y="53.1" width="39.8" height="49" fill="#fff" stroke="#444" stroke-width="0.8"/>
<line x1="481.40" y1="58.40" x2="490.80" y2="58.40" stroke="#1a1a1a" stroke-width="0.8"/>
<rect x="484.29" y="56.69" width="3.42" height="3.42" fill="#1a1a1a"/>
<text x="493.3" y="59.85" font-size="4.0" font-weight="bold" stroke="#1a1a1a" stroke-width="0.3" textLength="7.9" lengthAdjust="spacingAndGlyphs" fill="#1a1a1a">R11</text>
<line x1="481.40" y1="66.40" x2="490.80" y2="66.40" stroke="#1a1a1a" stroke-width="0.8"/>
<polygon points="486.00,64.00 488.40,66.40 486.00,68.80 483.60,66.40" fill="#1a1a1a"/>
<text x="493.3" y="67.85000000000001" font-size="4.0" font-weight="bold" stroke="#1a1a1a" stroke-width="0.3" textLength="7.9" lengthAdjust="spacingAndGlyphs" fill="#1a1a1a">R12</text>
<line x1="481.40" y1="74.20" x2="490.80" y2="74.20" stroke="#1a1a1a" stroke-width="0.8"/>
<ellipse cx="486.00" cy="74.20" rx="1.78" ry="1.53" fill="#1a1a1a"/>
<text x="493.3" y="75.65" font-size="4.0" font-weight="bold" stroke="#1a1a1a" stroke-width="0.3" textLength="7.9" lengthAdjust="spacingAndGlyphs" fill="#1a1a1a">R13</text>
<line x1="481.20" y1="82.00" x2="482.60" y2="82.00" stroke="#1a1a1a" stroke-width="0.8"/>
<line x1="483.60" y1="82.00" x2="484.40" y2="82.00" stroke="#1a1a1a" stroke-width="0.8"/>
<line x1="487.90" y1="82.00" x2="490.60" y2="82.00" stroke="#1a1a1a" stroke-width="0.8"/>
<rect x="484.61" y="80.61" width="2.78" height="2.78" fill="#fff" stroke="#1a1a1a" stroke-width="0.75"/>
<text x="493.3" y="83.45" font-size="4.0" font-weight="bold" stroke="#1a1a1a" stroke-width="0.3" textLength="7.9" lengthAdjust="spacingAndGlyphs" fill="#1a1a1a">R14</text>
<line x1="481.20" y1="89.80" x2="482.60" y2="89.80" stroke="#1a1a1a" stroke-width="0.8"/>
<line x1="483.60" y1="89.80" x2="484.40" y2="89.80" stroke="#1a1a1a" stroke-width="0.8"/>
<line x1="487.90" y1="89.80" x2="490.60" y2="89.80" stroke="#1a1a1a" stroke-width="0.8"/>
<polygon points="486.00,87.61 488.19,89.80 486.00,91.98 483.81,89.80" fill="#fff" stroke="#1a1a1a" stroke-width="0.8"/>
<text x="493.3" y="91.25" font-size="4.0" font-weight="bold" stroke="#1a1a1a" stroke-width="0.3" textLength="7.9" lengthAdjust="spacingAndGlyphs" fill="#1a1a1a">R15</text>
<line x1="481.20" y1="97.60" x2="482.60" y2="97.60" stroke="#1a1a1a" stroke-width="0.8"/>
<line x1="483.60" y1="97.60" x2="484.40" y2="97.60" stroke="#1a1a1a" stroke-width="0.8"/>
<line x1="487.90" y1="97.60" x2="490.60" y2="97.60" stroke="#1a1a1a" stroke-width="0.8"/>
<circle cx="486.00" cy="97.60" r="1.60" fill="#fff" stroke="#2a2a2a" stroke-width="0.72"/>
<text x="493.3" y="99.05" font-size="4.0" font-weight="bold" stroke="#1a1a1a" stroke-width="0.3" textLength="7.9" lengthAdjust="spacingAndGlyphs" fill="#1a1a1a">R16</text>
<text x="503.3" y="67.85000000000001" font-size="4.0" font-weight="bold" stroke="#1a1a1a" stroke-width="0.3" textLength="12.4" lengthAdjust="spacingAndGlyphs" fill="#1a1a1a">No IS</text>
<text x="507.3" y="91.25" font-size="4.0" font-weight="bold" stroke="#1a1a1a" stroke-width="0.3" textLength="4.3" lengthAdjust="spacingAndGlyphs" fill="#1a1a1a">IS</text>
<line x1="506.25" y1="55.90" x2="512.95" y2="55.90" stroke="#1a1a1a" stroke-width="0.85"/>
<polygon points="509.60,56.60 508.25,59.20 510.95,59.20" fill="#1a1a1a"/>
<line x1="509.60" y1="57.90" x2="509.60" y2="62.90" stroke="#1a1a1a" stroke-width="0.9"/>
<line x1="506.25" y1="76.00" x2="512.95" y2="76.00" stroke="#1a1a1a" stroke-width="0.85"/>
<polygon points="509.60,75.50 508.15,72.70 511.05,72.70" fill="#1a1a1a"/>
<line x1="509.60" y1="74.00" x2="509.60" y2="69.80" stroke="#1a1a1a" stroke-width="0.9"/>
<line x1="506.25" y1="79.80" x2="512.95" y2="79.80" stroke="#1a1a1a" stroke-width="0.85"/>
<polygon points="509.60,80.50 508.25,83.10 510.95,83.10" fill="#1a1a1a"/>
<line x1="509.60" y1="81.80" x2="509.60" y2="86.80" stroke="#1a1a1a" stroke-width="0.9"/>
<line x1="506.25" y1="99.40" x2="512.95" y2="99.40" stroke="#1a1a1a" stroke-width="0.85"/>
<polygon points="509.60,98.90 508.15,96.10 511.05,96.10" fill="#1a1a1a"/>
<line x1="509.60" y1="97.40" x2="509.60" y2="93.20" stroke="#1a1a1a" stroke-width="0.9"/>
<text x="161.8" y="175.2" font-size="10.8" font-weight="bold" stroke="#1a1a1a" stroke-width="0.45" fill="#1a1a1a">C</text>
<text x="207.0" y="170.4" font-size="5.9" font-weight="bold" stroke="#1a1a1a" stroke-width="0.4" textLength="33.4" lengthAdjust="spacingAndGlyphs" fill="#1a1a1a">Withdraw IS</text>
<line x1="224.40" y1="172.60" x2="224.40" y2="178.30" stroke="#1a1a1a" stroke-width="1.2"/>
<polygon points="222.00,177.80 226.80,177.80 224.40,182.80" fill="#1a1a1a"/>
<line x1="197.60" y1="185.00" x2="197.60" y2="293.50" stroke="#1a1a1a" stroke-width="0.8"/>
<line x1="197.20" y1="293.10" x2="360.00" y2="293.10" stroke="#1a1a1a" stroke-width="0.8"/>
<line x1="224.30" y1="183.50" x2="224.30" y2="293.10" stroke="#000" stroke-width="1.25" stroke-dasharray="1.15 1.35"/>
<line x1="195.80" y1="293.10" x2="197.60" y2="293.10" stroke="#1a1a1a" stroke-width="0.7"/>
<text x="194.6" y="294.70000000000005" font-size="4.6" font-weight="bold" stroke="#1a1a1a" stroke-width="0.3" text-anchor="end" fill="#1a1a1a">0.01</text>
<line x1="195.80" y1="275.13" x2="197.60" y2="275.13" stroke="#1a1a1a" stroke-width="0.7"/>
<text x="194.6" y="276.73" font-size="4.6" font-weight="bold" stroke="#1a1a1a" stroke-width="0.3" text-anchor="end" fill="#1a1a1a">0.1</text>
<line x1="195.80" y1="257.16" x2="197.60" y2="257.16" stroke="#1a1a1a" stroke-width="0.7"/>
<text x="194.6" y="258.76000000000005" font-size="4.6" font-weight="bold" stroke="#1a1a1a" stroke-width="0.3" text-anchor="end" fill="#1a1a1a">1</text>
<line x1="195.80" y1="239.19" x2="197.60" y2="239.19" stroke="#1a1a1a" stroke-width="0.7"/>
<text x="194.6" y="240.79000000000002" font-size="4.6" font-weight="bold" stroke="#1a1a1a" stroke-width="0.3" text-anchor="end" fill="#1a1a1a">10</text>
<line x1="195.80" y1="221.22" x2="197.60" y2="221.22" stroke="#1a1a1a" stroke-width="0.7"/>
<text x="194.6" y="222.82000000000002" font-size="4.6" font-weight="bold" stroke="#1a1a1a" stroke-width="0.3" text-anchor="end" fill="#1a1a1a">100</text>
<line x1="195.80" y1="203.25" x2="197.60" y2="203.25" stroke="#1a1a1a" stroke-width="0.7"/>
<text x="194.6" y="204.85000000000002" font-size="4.6" font-weight="bold" stroke="#1a1a1a" stroke-width="0.3" text-anchor="end" fill="#1a1a1a">1000</text>
<line x1="195.80" y1="185.28" x2="197.60" y2="185.28" stroke="#1a1a1a" stroke-width="0.7"/>
<text x="194.6" y="186.88000000000002" font-size="4.6" font-weight="bold" stroke="#1a1a1a" stroke-width="0.3" text-anchor="end" fill="#1a1a1a">10000</text>
<text x="171.2" y="238.7" font-size="5.4" font-weight="bold" stroke="#1a1a1a" stroke-width="0.3" text-anchor="middle" transform="rotate(-90 171.2 238.7)" textLength="62" lengthAdjust="spacingAndGlyphs" fill="#1a1a1a">Anti-AAV8 IgG (ug/mL)</text>
<line x1="197.60" y1="293.10" x2="197.60" y2="294.90" stroke="#1a1a1a" stroke-width="0.7"/>
<text x="197.6" y="301.0" font-size="5.1" font-weight="bold" stroke="#1a1a1a" stroke-width="0.3" text-anchor="middle" fill="#1a1a1a">0</text>
<line x1="206.60" y1="293.10" x2="206.60" y2="294.10" stroke="#1a1a1a" stroke-width="0.7"/>
<line x1="215.60" y1="293.10" x2="215.60" y2="294.90" stroke="#1a1a1a" stroke-width="0.7"/>
<text x="215.6" y="301.0" font-size="5.1" font-weight="bold" stroke="#1a1a1a" stroke-width="0.3" text-anchor="middle" fill="#1a1a1a">4</text>
<line x1="224.60" y1="293.10" x2="224.60" y2="294.10" stroke="#1a1a1a" stroke-width="0.7"/>
<line x1="233.60" y1="293.10" x2="233.60" y2="294.90" stroke="#1a1a1a" stroke-width="0.7"/>
<text x="233.6" y="301.0" font-size="5.1" font-weight="bold" stroke="#1a1a1a" stroke-width="0.3" text-anchor="middle" fill="#1a1a1a">8</text>
<line x1="242.60" y1="293.10" x2="242.60" y2="294.10" stroke="#1a1a1a" stroke-width="0.7"/>
<line x1="251.60" y1="293.10" x2="251.60" y2="294.90" stroke="#1a1a1a" stroke-width="0.7"/>
<text x="251.6" y="301.0" font-size="5.1" font-weight="bold" stroke="#1a1a1a" stroke-width="0.3" text-anchor="middle" fill="#1a1a1a">12</text>
<line x1="260.60" y1="293.10" x2="260.60" y2="294.10" stroke="#1a1a1a" stroke-width="0.7"/>
<line x1="269.60" y1="293.10" x2="269.60" y2="294.90" stroke="#1a1a1a" stroke-width="0.7"/>
<text x="269.6" y="301.0" font-size="5.1" font-weight="bold" stroke="#1a1a1a" stroke-width="0.3" text-anchor="middle" fill="#1a1a1a">16</text>
<line x1="278.60" y1="293.10" x2="278.60" y2="294.10" stroke="#1a1a1a" stroke-width="0.7"/>
<line x1="287.60" y1="293.10" x2="287.60" y2="294.90" stroke="#1a1a1a" stroke-width="0.7"/>
<text x="287.6" y="301.0" font-size="5.1" font-weight="bold" stroke="#1a1a1a" stroke-width="0.3" text-anchor="middle" fill="#1a1a1a">20</text>
<line x1="296.60" y1="293.10" x2="296.60" y2="294.10" stroke="#1a1a1a" stroke-width="0.7"/>
<line x1="305.60" y1="293.10" x2="305.60" y2="294.90" stroke="#1a1a1a" stroke-width="0.7"/>
<text x="305.6" y="301.0" font-size="5.1" font-weight="bold" stroke="#1a1a1a" stroke-width="0.3" text-anchor="middle" fill="#1a1a1a">24</text>
<line x1="314.60" y1="293.10" x2="314.60" y2="294.10" stroke="#1a1a1a" stroke-width="0.7"/>
<line x1="323.60" y1="293.10" x2="323.60" y2="294.90" stroke="#1a1a1a" stroke-width="0.7"/>
<text x="323.6" y="301.0" font-size="5.1" font-weight="bold" stroke="#1a1a1a" stroke-width="0.3" text-anchor="middle" fill="#1a1a1a">28</text>
<line x1="332.60" y1="293.10" x2="332.60" y2="294.10" stroke="#1a1a1a" stroke-width="0.7"/>
<line x1="341.60" y1="293.10" x2="341.60" y2="294.90" stroke="#1a1a1a" stroke-width="0.7"/>
<text x="341.6" y="301.0" font-size="5.1" font-weight="bold" stroke="#1a1a1a" stroke-width="0.3" text-anchor="middle" fill="#1a1a1a">32</text>
<line x1="350.60" y1="293.10" x2="350.60" y2="294.10" stroke="#1a1a1a" stroke-width="0.7"/>
<line x1="359.60" y1="293.10" x2="359.60" y2="294.90" stroke="#1a1a1a" stroke-width="0.7"/>
<text x="359.6" y="301.0" font-size="5.1" font-weight="bold" stroke="#1a1a1a" stroke-width="0.3" text-anchor="middle" fill="#1a1a1a">36</text>
<text x="278.1" y="307.1" font-size="5.4" font-weight="bold" stroke="#1a1a1a" stroke-width="0.3" text-anchor="middle" textLength="15.6" lengthAdjust="spacingAndGlyphs" fill="#1a1a1a">Week</text>
<polyline points="197.60,254.00 202.10,239.19 206.60,240.93 211.10,245.25 215.60,248.59 220.10,245.78 224.60,257.16 229.10,254.53 233.60,219.80 251.60,213.47 269.60,215.07 296.60,216.90 314.60,215.07 341.60,216.34" fill="none" stroke="#1a1a1a" stroke-width="0.85" stroke-dasharray="1.6 1.3"/>
<polyline points="197.60,251.75 202.10,239.19 206.60,247.16 211.10,253.49 215.60,255.29 220.10,257.98 224.60,257.98 229.10,254.53 233.60,257.56 251.60,260.17 269.60,266.05 296.60,275.29 314.60,259.94 341.60,259.62" fill="none" stroke="#1a1a1a" stroke-width="0.85" stroke-dasharray="1.6 1.3"/>
<polyline points="197.60,248.59 202.10,237.77 206.60,221.22 211.10,222.04 215.60,219.35 220.10,209.21 224.60,205.50 229.10,203.25 233.60,200.74 251.60,198.88 269.60,201.14 296.60,202.65 314.60,204.89 341.60,203.10" fill="none" stroke="#1a1a1a" stroke-width="0.85" stroke-dasharray="1.6 1.3"/>
<polyline points="197.60,233.04 202.10,221.22 206.60,221.62 211.10,222.96 215.60,223.78 220.10,224.23 224.60,224.70 229.10,222.86 233.60,223.47 251.60,221.22 269.60,220.91 296.60,222.58 314.60,221.22 341.60,223.26" fill="none" stroke="#1a1a1a" stroke-width="0.85"/>
<polyline points="197.60,243.18 202.10,217.08 206.60,220.48 211.10,222.49 215.60,219.35 220.10,209.21 224.60,205.50 229.10,203.25 233.60,203.25 251.60,203.25 269.60,204.52 296.60,208.98 314.60,210.02 341.60,213.47" fill="none" stroke="#1a1a1a" stroke-width="0.85"/>
<polyline points="197.60,255.74 202.10,240.01 206.60,244.60 211.10,251.01 215.60,251.01 220.10,251.37 224.60,251.87 229.10,251.01 233.60,252.15 251.60,254.65 269.60,253.64 296.60,259.00 314.60,253.25 341.60,255.17" fill="none" stroke="#1a1a1a" stroke-width="0.85"/>
<circle cx="197.60" cy="254.00" r="1.64" fill="#fff" stroke="#2a2a2a" stroke-width="0.72"/>
<circle cx="202.10" cy="239.19" r="1.64" fill="#fff" stroke="#2a2a2a" stroke-width="0.72"/>
<circle cx="206.60" cy="240.93" r="1.64" fill="#fff" stroke="#2a2a2a" stroke-width="0.72"/>
<circle cx="211.10" cy="245.25" r="1.64" fill="#fff" stroke="#2a2a2a" stroke-width="0.72"/>
<circle cx="215.60" cy="248.59" r="1.64" fill="#fff" stroke="#2a2a2a" stroke-width="0.72"/>
<circle cx="220.10" cy="245.78" r="1.64" fill="#fff" stroke="#2a2a2a" stroke-width="0.72"/>
<circle cx="224.60" cy="257.16" r="1.64" fill="#fff" stroke="#2a2a2a" stroke-width="0.72"/>
<circle cx="229.10" cy="254.53" r="1.64" fill="#fff" stroke="#2a2a2a" stroke-width="0.72"/>
<circle cx="233.60" cy="219.80" r="1.64" fill="#fff" stroke="#2a2a2a" stroke-width="0.72"/>
<circle cx="251.60" cy="213.47" r="1.64" fill="#fff" stroke="#2a2a2a" stroke-width="0.72"/>
<circle cx="269.60" cy="215.07" r="1.64" fill="#fff" stroke="#2a2a2a" stroke-width="0.72"/>
<circle cx="296.60" cy="216.90" r="1.64" fill="#fff" stroke="#2a2a2a" stroke-width="0.72"/>
<circle cx="314.60" cy="215.07" r="1.64" fill="#fff" stroke="#2a2a2a" stroke-width="0.72"/>
<circle cx="341.60" cy="216.34" r="1.64" fill="#fff" stroke="#2a2a2a" stroke-width="0.72"/>
<polygon points="197.60,249.80 199.56,251.75 197.60,253.71 195.64,251.75" fill="#fff" stroke="#1a1a1a" stroke-width="0.8"/>
<polygon points="202.10,237.24 204.06,239.19 202.10,241.15 200.14,239.19" fill="#fff" stroke="#1a1a1a" stroke-width="0.8"/>
<polygon points="206.60,245.21 208.56,247.16 206.60,249.12 204.64,247.16" fill="#fff" stroke="#1a1a1a" stroke-width="0.8"/>
<polygon points="211.10,251.54 213.06,253.49 211.10,255.45 209.14,253.49" fill="#fff" stroke="#1a1a1a" stroke-width="0.8"/>
<polygon points="215.60,253.34 217.56,255.29 215.60,257.25 213.64,255.29" fill="#fff" stroke="#1a1a1a" stroke-width="0.8"/>
<polygon points="220.10,256.03 222.06,257.98 220.10,259.94 218.14,257.98" fill="#fff" stroke="#1a1a1a" stroke-width="0.8"/>
<polygon points="224.60,256.03 226.56,257.98 224.60,259.94 222.64,257.98" fill="#fff" stroke="#1a1a1a" stroke-width="0.8"/>
<polygon points="229.10,252.58 231.06,254.53 229.10,256.49 227.14,254.53" fill="#fff" stroke="#1a1a1a" stroke-width="0.8"/>
<polygon points="233.60,255.61 235.56,257.56 233.60,259.52 231.64,257.56" fill="#fff" stroke="#1a1a1a" stroke-width="0.8"/>
<polygon points="251.60,258.21 253.56,260.17 251.60,262.12 249.64,260.17" fill="#fff" stroke="#1a1a1a" stroke-width="0.8"/>
<polygon points="269.60,264.10 271.56,266.05 269.60,268.01 267.65,266.05" fill="#fff" stroke="#1a1a1a" stroke-width="0.8"/>
<polygon points="296.60,273.33 298.56,275.29 296.60,277.24 294.65,275.29" fill="#fff" stroke="#1a1a1a" stroke-width="0.8"/>
<polygon points="314.60,257.99 316.56,259.94 314.60,261.90 312.65,259.94" fill="#fff" stroke="#1a1a1a" stroke-width="0.8"/>
<polygon points="341.60,257.66 343.56,259.62 341.60,261.57 339.65,259.62" fill="#fff" stroke="#1a1a1a" stroke-width="0.8"/>
<rect x="196.21" y="247.20" width="2.78" height="2.78" fill="#fff" stroke="#1a1a1a" stroke-width="0.75"/>
<rect x="200.71" y="236.38" width="2.78" height="2.78" fill="#fff" stroke="#1a1a1a" stroke-width="0.75"/>
<rect x="205.21" y="219.83" width="2.78" height="2.78" fill="#fff" stroke="#1a1a1a" stroke-width="0.75"/>
<rect x="209.71" y="220.65" width="2.78" height="2.78" fill="#fff" stroke="#1a1a1a" stroke-width="0.75"/>
<rect x="214.21" y="217.97" width="2.78" height="2.78" fill="#fff" stroke="#1a1a1a" stroke-width="0.75"/>
<rect x="218.71" y="207.82" width="2.78" height="2.78" fill="#fff" stroke="#1a1a1a" stroke-width="0.75"/>
<rect x="223.21" y="204.11" width="2.78" height="2.78" fill="#fff" stroke="#1a1a1a" stroke-width="0.75"/>
<rect x="227.71" y="201.86" width="2.78" height="2.78" fill="#fff" stroke="#1a1a1a" stroke-width="0.75"/>
<rect x="232.21" y="199.35" width="2.78" height="2.78" fill="#fff" stroke="#1a1a1a" stroke-width="0.75"/>
<rect x="250.21" y="197.50" width="2.78" height="2.78" fill="#fff" stroke="#1a1a1a" stroke-width="0.75"/>
<rect x="268.21" y="199.76" width="2.78" height="2.78" fill="#fff" stroke="#1a1a1a" stroke-width="0.75"/>
<rect x="295.21" y="201.26" width="2.78" height="2.78" fill="#fff" stroke="#1a1a1a" stroke-width="0.75"/>
<rect x="313.21" y="203.51" width="2.78" height="2.78" fill="#fff" stroke="#1a1a1a" stroke-width="0.75"/>
<rect x="340.21" y="201.71" width="2.78" height="2.78" fill="#fff" stroke="#1a1a1a" stroke-width="0.75"/>
<rect x="195.89" y="231.33" width="3.42" height="3.42" fill="#1a1a1a"/>
<rect x="200.39" y="219.51" width="3.42" height="3.42" fill="#1a1a1a"/>
<rect x="204.89" y="219.91" width="3.42" height="3.42" fill="#1a1a1a"/>
<rect x="209.39" y="221.25" width="3.42" height="3.42" fill="#1a1a1a"/>
<rect x="213.89" y="222.07" width="3.42" height="3.42" fill="#1a1a1a"/>
<rect x="218.39" y="222.52" width="3.42" height="3.42" fill="#1a1a1a"/>
<rect x="222.89" y="222.99" width="3.42" height="3.42" fill="#1a1a1a"/>
<rect x="227.39" y="221.15" width="3.42" height="3.42" fill="#1a1a1a"/>
<rect x="231.89" y="221.76" width="3.42" height="3.42" fill="#1a1a1a"/>
<rect x="249.89" y="219.51" width="3.42" height="3.42" fill="#1a1a1a"/>
<rect x="267.89" y="219.20" width="3.42" height="3.42" fill="#1a1a1a"/>
<rect x="294.89" y="220.87" width="3.42" height="3.42" fill="#1a1a1a"/>
<rect x="312.89" y="219.51" width="3.42" height="3.42" fill="#1a1a1a"/>
<rect x="339.89" y="221.55" width="3.42" height="3.42" fill="#1a1a1a"/>
<polygon points="197.60,240.97 199.81,243.18 197.60,245.38 195.39,243.18" fill="#1a1a1a"/>
<polygon points="202.10,214.87 204.31,217.08 202.10,219.29 199.89,217.08" fill="#1a1a1a"/>
<polygon points="206.60,218.27 208.81,220.48 206.60,222.68 204.39,220.48" fill="#1a1a1a"/>
<polygon points="211.10,220.28 213.31,222.49 211.10,224.70 208.89,222.49" fill="#1a1a1a"/>
<polygon points="215.60,217.15 217.81,219.35 215.60,221.56 213.39,219.35" fill="#1a1a1a"/>
<polygon points="220.10,207.00 222.31,209.21 220.10,211.42 217.89,209.21" fill="#1a1a1a"/>
<polygon points="224.60,203.29 226.81,205.50 224.60,207.70 222.39,205.50" fill="#1a1a1a"/>
<polygon points="229.10,201.04 231.31,203.25 229.10,205.46 226.89,203.25" fill="#1a1a1a"/>
<polygon points="233.60,201.04 235.81,203.25 233.60,205.46 231.39,203.25" fill="#1a1a1a"/>
<polygon points="251.60,201.04 253.81,203.25 251.60,205.46 249.39,203.25" fill="#1a1a1a"/>
<polygon points="269.60,202.31 271.81,204.52 269.60,206.73 267.39,204.52" fill="#1a1a1a"/>
<polygon points="296.60,206.77 298.81,208.98 296.60,211.19 294.39,208.98" fill="#1a1a1a"/>
<polygon points="314.60,207.81 316.81,210.02 314.60,212.23 312.39,210.02" fill="#1a1a1a"/>
<polygon points="341.60,211.26 343.81,213.47 341.60,215.68 339.39,213.47" fill="#1a1a1a"/>
<ellipse cx="197.60" cy="255.74" rx="1.89" ry="1.62" fill="#1a1a1a"/>
<ellipse cx="202.10" cy="240.01" rx="1.89" ry="1.62" fill="#1a1a1a"/>
<ellipse cx="206.60" cy="244.60" rx="1.89" ry="1.62" fill="#1a1a1a"/>
<ellipse cx="211.10" cy="251.01" rx="1.89" ry="1.62" fill="#1a1a1a"/>
<ellipse cx="215.60" cy="251.01" rx="1.89" ry="1.62" fill="#1a1a1a"/>
<ellipse cx="220.10" cy="251.37" rx="1.89" ry="1.62" fill="#1a1a1a"/>
<ellipse cx="224.60" cy="251.87" rx="1.89" ry="1.62" fill="#1a1a1a"/>
<ellipse cx="229.10" cy="251.01" rx="1.89" ry="1.62" fill="#1a1a1a"/>
<ellipse cx="233.60" cy="252.15" rx="1.89" ry="1.62" fill="#1a1a1a"/>
<ellipse cx="251.60" cy="254.65" rx="1.89" ry="1.62" fill="#1a1a1a"/>
<ellipse cx="269.60" cy="253.64" rx="1.89" ry="1.62" fill="#1a1a1a"/>
<ellipse cx="296.60" cy="259.00" rx="1.89" ry="1.62" fill="#1a1a1a"/>
<ellipse cx="314.60" cy="253.25" rx="1.89" ry="1.62" fill="#1a1a1a"/>
<ellipse cx="341.60" cy="255.17" rx="1.89" ry="1.62" fill="#1a1a1a"/>
<rect x="361.8" y="212.4" width="37.6" height="47" fill="#fff" stroke="#444" stroke-width="0.8"/>
<line x1="364.50" y1="216.50" x2="374.20" y2="216.50" stroke="#1a1a1a" stroke-width="0.8"/>
<rect x="367.79" y="214.79" width="3.42" height="3.42" fill="#1a1a1a"/>
<text x="376" y="217.95" font-size="4.0" font-weight="bold" stroke="#1a1a1a" stroke-width="0.3" textLength="7.9" lengthAdjust="spacingAndGlyphs" fill="#1a1a1a">R11</text>
<line x1="364.50" y1="224.60" x2="374.20" y2="224.60" stroke="#1a1a1a" stroke-width="0.8"/>
<polygon points="369.50,222.20 371.90,224.60 369.50,227.00 367.10,224.60" fill="#1a1a1a"/>
<text x="376" y="226.04999999999998" font-size="4.0" font-weight="bold" stroke="#1a1a1a" stroke-width="0.3" textLength="14.3" lengthAdjust="spacingAndGlyphs" fill="#1a1a1a">R12No</text>
<line x1="364.50" y1="232.40" x2="374.20" y2="232.40" stroke="#1a1a1a" stroke-width="0.8"/>
<ellipse cx="369.50" cy="232.40" rx="1.78" ry="1.53" fill="#1a1a1a"/>
<text x="376" y="233.85" font-size="4.0" font-weight="bold" stroke="#1a1a1a" stroke-width="0.3" textLength="7.9" lengthAdjust="spacingAndGlyphs" fill="#1a1a1a">R13</text>
<line x1="364.60" y1="240.30" x2="366.00" y2="240.30" stroke="#1a1a1a" stroke-width="0.8"/>
<line x1="367.00" y1="240.30" x2="367.80" y2="240.30" stroke="#1a1a1a" stroke-width="0.8"/>
<line x1="371.40" y1="240.30" x2="374.10" y2="240.30" stroke="#1a1a1a" stroke-width="0.8"/>
<rect x="368.11" y="238.91" width="2.78" height="2.78" fill="#fff" stroke="#1a1a1a" stroke-width="0.75"/>
<text x="376" y="241.75" font-size="4.0" font-weight="bold" stroke="#1a1a1a" stroke-width="0.3" textLength="7.9" lengthAdjust="spacingAndGlyphs" fill="#1a1a1a">R14</text>
<line x1="364.60" y1="248.10" x2="366.00" y2="248.10" stroke="#1a1a1a" stroke-width="0.8"/>
<line x1="367.00" y1="248.10" x2="367.80" y2="248.10" stroke="#1a1a1a" stroke-width="0.8"/>
<line x1="371.40" y1="248.10" x2="374.10" y2="248.10" stroke="#1a1a1a" stroke-width="0.8"/>
<polygon points="369.50,245.91 371.69,248.10 369.50,250.28 367.31,248.10" fill="#fff" stroke="#1a1a1a" stroke-width="0.8"/>
<text x="376" y="249.54999999999998" font-size="4.0" font-weight="bold" stroke="#1a1a1a" stroke-width="0.3" textLength="7.9" lengthAdjust="spacingAndGlyphs" fill="#1a1a1a">R15</text>
<line x1="364.60" y1="255.80" x2="366.00" y2="255.80" stroke="#1a1a1a" stroke-width="0.8"/>
<line x1="367.00" y1="255.80" x2="367.80" y2="255.80" stroke="#1a1a1a" stroke-width="0.8"/>
<line x1="371.40" y1="255.80" x2="374.10" y2="255.80" stroke="#1a1a1a" stroke-width="0.8"/>
<circle cx="369.50" cy="255.80" r="1.60" fill="#fff" stroke="#2a2a2a" stroke-width="0.72"/>
<text x="376" y="257.25" font-size="4.0" font-weight="bold" stroke="#1a1a1a" stroke-width="0.3" textLength="7.9" lengthAdjust="spacingAndGlyphs" fill="#1a1a1a">R16</text>
<text x="394.0" y="226.04999999999998" font-size="4.0" font-weight="bold" stroke="#1a1a1a" stroke-width="0.3" textLength="3.4" lengthAdjust="spacingAndGlyphs" fill="#1a1a1a">IS</text>
<text x="390.0" y="249.54999999999998" font-size="4.0" font-weight="bold" stroke="#1a1a1a" stroke-width="0.3" textLength="4.3" lengthAdjust="spacingAndGlyphs" fill="#1a1a1a">IS</text>
<line x1="388.00" y1="214.50" x2="394.40" y2="214.50" stroke="#1a1a1a" stroke-width="0.85"/>
<polygon points="391.20,215.20 389.85,217.80 392.55,217.80" fill="#1a1a1a"/>
<line x1="391.20" y1="216.50" x2="391.20" y2="221.50" stroke="#1a1a1a" stroke-width="0.9"/>
<line x1="388.00" y1="234.10" x2="394.40" y2="234.10" stroke="#1a1a1a" stroke-width="0.85"/>
<polygon points="391.20,233.60 389.75,230.80 392.65,230.80" fill="#1a1a1a"/>
<line x1="391.20" y1="232.10" x2="391.20" y2="227.90" stroke="#1a1a1a" stroke-width="0.9"/>
<line x1="388.00" y1="237.50" x2="394.40" y2="237.50" stroke="#1a1a1a" stroke-width="0.85"/>
<polygon points="391.20,238.20 389.85,240.80 392.55,240.80" fill="#1a1a1a"/>
<line x1="391.20" y1="239.50" x2="391.20" y2="244.50" stroke="#1a1a1a" stroke-width="0.9"/>
<line x1="388.00" y1="257.10" x2="394.40" y2="257.10" stroke="#1a1a1a" stroke-width="0.85"/>
<polygon points="391.20,256.60 389.75,253.80 392.65,253.80" fill="#1a1a1a"/>
<line x1="391.20" y1="255.10" x2="391.20" y2="250.90" stroke="#1a1a1a" stroke-width="0.9"/>
</g>
</svg>
</body></html>
